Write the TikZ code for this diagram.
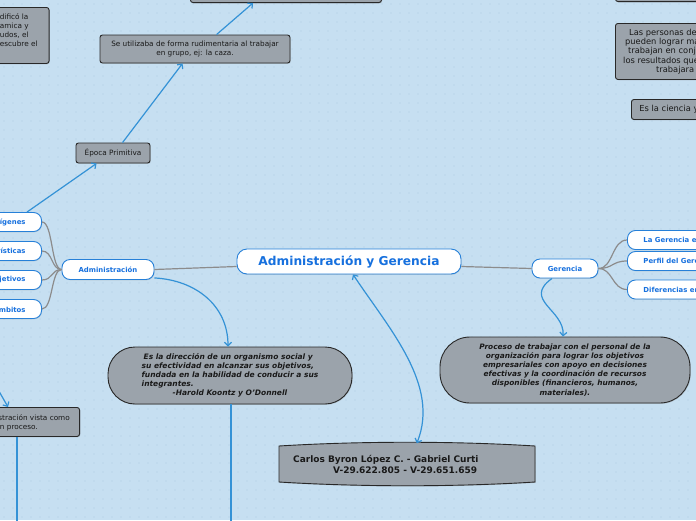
\documentclass[tikz,border=0pt]{standalone}
\usepackage{fontspec}
\setmainfont{DejaVu Sans}
\usetikzlibrary{arrows.meta,shadows}
\definecolor{bgc}{RGB}{198,223,241}
\definecolor{dotc}{RGB}{176,203,226}
\definecolor{grayfill}{RGB}{155,163,171}
\definecolor{darkline}{RGB}{40,40,40}
\definecolor{bluebord}{RGB}{38,128,216}
\definecolor{bluetext}{RGB}{22,112,222}
\definecolor{connblue}{RGB}{52,146,214}
\definecolor{conngray}{RGB}{140,140,140}
\definecolor{txtdark}{RGB}{25,25,25}
\tikzset{
  gbox/.style={draw=darkline, fill=grayfill, rounded corners=2.5pt, line width=0.9pt,
    text=txtdark, font=\fontsize{7.3}{9}\selectfont, align=center, inner sep=0pt,
    drop shadow={shadow xshift=0.8pt,shadow yshift=-0.8pt,opacity=0.3}},
  plaintxt/.style={text=txtdark, font=\fontsize{7.3}{9}\selectfont, inner sep=0pt},
  qshape/.style={draw=darkline, fill=grayfill, line width=0.9pt, text=txtdark,
    inner sep=0pt, font=\bfseries\itshape\fontsize{7.5}{9}\selectfont,
    drop shadow={shadow xshift=0.8pt,shadow yshift=-0.8pt,opacity=0.3}},
  wnode/.style={draw=bluebord, fill=white, line width=0.9pt, rounded corners=8pt,
    text=bluetext, font=\bfseries\fontsize{6.9}{8}\selectfont, inner xsep=16pt,
    inner ysep=0pt, minimum height=19pt,
    drop shadow={shadow xshift=0.5pt,shadow yshift=-0.8pt,opacity=0.25}},
  gconn/.style={draw=conngray, line width=1.2pt},
  bline/.style={draw=connblue, line width=1.2pt},
  bconn/.style={draw=connblue, line width=1.2pt, -{Straight Barb[length=3.5pt,width=7pt]}},
}
\begin{document}
\begin{tikzpicture}[x=1pt,y=-1pt]
\useasboundingbox (0,0) rectangle (696,520);
\clip (0,0) rectangle (696,520);
\fill[bgc] (0,0) rectangle (696,520);
\foreach \x in {4,13,...,700} \foreach \y in {4,13,...,524} \fill[dotc] (\x,\y) circle (0.6);

% ---------- gray boxes, top ----------
\node[gbox, anchor=south west, minimum width=191pt, minimum height=40pt] (topmid) at (190,3) {};
\node[gbox, anchor=north east, minimum width=190pt, minimum height=56pt] (tlbox) at (49.5,7) {};
\node[plaintxt, anchor=west, align=left] (tltext) at (-0.3,30.5) {dificó la\\amica y\\udos, el\\escubre el};
\node[gbox, minimum width=190pt, minimum height=28pt] (caza) at (195,49)
  {Se utilizaba de forma rudimentaria al trabajar\\en grupo, ej: la caza.};
\node[gbox, minimum width=74pt, minimum height=20pt] (epoca) at (113,153) {Época Primitiva};

\node[gbox, anchor=south west, minimum width=150pt, minimum height=40pt] (toprt) at (615,2) {};
\node[gbox, anchor=north west, minimum width=150pt, minimum height=56pt] (trbox) at (615,23) {};
\node[plaintxt, anchor=west, align=left, font=\fontsize{8.3}{9.3}\selectfont] (trtext) at (623,51.5)
  {\hspace*{6pt}Las personas dentro\\\hspace*{2pt}pueden lograr más\\\hspace*{5pt}trabajan en conjunto\\los resultados que\\\hspace*{33pt}trabajara c};
\node[gbox, anchor=west, minimum height=20pt, inner xsep=8pt, font=\fontsize{8.3}{9.3}\selectfont] (ciencia) at (631,109.5) {Es la ciencia y el arte};

% ---------- main nodes ----------
\node[wnode, minimum width=224pt, minimum height=25pt, rounded corners=10pt, inner xsep=0pt,
  font=\bfseries\fontsize{12.2}{14}\selectfont] (main) at (349,261.5) {Administración y Gerencia};
\node[wnode, minimum width=92pt, minimum height=20pt, inner xsep=0pt] (adm) at (108,269.5) {Administración};
\node[wnode, minimum width=66pt, inner xsep=0pt] (ger) at (565,268.5) {Gerencia};

\node[wnode, anchor=east] (orig) at (42,222) {Orígenes};
\node[wnode, anchor=east] (carac) at (42,251) {Características};
\node[wnode, anchor=east] (objet) at (42,280) {Objetivos};
\node[wnode, anchor=east] (ambit) at (42,309) {Ámbitos};

\node[wnode, anchor=west] (lager) at (627,240) {La Gerencia en};
\node[wnode, anchor=west] (perfil) at (627,261) {Perfil del Gerente};
\node[wnode, anchor=west] (difer) at (627,289.5) {Diferencias entre};

% ---------- lower gray shapes ----------
\node[qshape, minimum width=244pt, minimum height=57pt, rounded corners=27pt, align=left] (quote) at (230,375.5)
  {\hspace*{2pt}Es la dirección de un organismo social y\\su efectividad en alcanzar sus objetivos,\\fundada en la habilidad de conducir a sus\\integrantes.\\\hspace*{31pt}-Harold Koontz y O'Donnell};
\node[qshape, minimum width=250pt, minimum height=66pt, rounded corners=30pt, align=center,
  font=\bfseries\itshape\fontsize{7.4}{9.1}\selectfont] (proc) at (565,370)
  {Proceso de trabajar con el personal de la\\organización para lograr los objetivos\\empresariales con apoyo en decisiones\\efectivas y la coordinación de recursos\\disponibles (financieros, humanos,\\materiales).};

\node[gbox, anchor=north east, minimum width=200pt, minimum height=29pt] (vista) at (80,407) {};
\node[plaintxt, anchor=east, align=right] (vistatext) at (70,422.5) {Administración vista como\\un proceso.\hspace*{32pt}};

\filldraw[draw=darkline, fill=grayfill, line width=0.9pt,
  drop shadow={shadow xshift=0.8pt,shadow yshift=-0.8pt,opacity=0.3}]
  (279,446) .. controls (360,441) and (455,441) .. (535,446) -- (535,482)
  .. controls (455,487) and (360,487) .. (279,482) -- cycle;
\node[anchor=west, align=left, inner sep=0pt, minimum height=42pt, text=txtdark,
  font=\bfseries\fontsize{9}{11}\selectfont] (carlos) at (293,464.5)
  {Carlos Byron López C. - Gabriel Curti\\\hspace*{40pt}V-29.622.805 - V-29.651.659};

% ---------- connectors ----------
\draw[gconn] (adm.west) .. controls (51,269.5) and (53,222) .. (orig.east);
\draw[gconn] (adm.west) .. controls (51,269.5) and (53,251) .. (carac.east);
\draw[gconn] (adm.west) .. controls (51,269.5) and (53,280) .. (objet.east);
\draw[gconn] (adm.west) .. controls (51,269.5) and (53,309) .. (ambit.east);
\draw[gconn] (ger.east) .. controls (613,268.5) and (612,240) .. (lager.west);
\draw[gconn] (ger.east) .. controls (613,268.5) and (612,261) .. (perfil.west);
\draw[gconn] (ger.east) .. controls (613,268.5) and (612,289.5) .. (difer.west);
\draw[gconn] (adm.east) -- ([yshift=-5pt]main.west);
\draw[gconn] ([yshift=-5pt]main.east) -- (ger.west);

\draw[bconn] ([xshift=-15pt]orig.north east) -- ([xshift=21pt]epoca.south west);
\draw[bconn] ([xshift=47pt]epoca.north west) -- ([xshift=83pt]caza.south west);
\draw[bconn] ([xshift=117pt]caza.north west) -- ([xshift=63pt]topmid.south west);

\draw[bconn] ([yshift=2pt]adm.south east) .. controls (195,280) and (228,305) .. ([xshift=-2pt]quote.north);
\coordinate (qend) at (231,526);
\draw[bline] ([xshift=1pt]quote.south) -- (qend);

\draw[bconn] ([xshift=-13pt]ger.south) .. controls (522,300) and (565,310) .. ([xshift=-2pt]proc.north);

\draw[bline, {Straight Barb[length=3.5pt,width=7pt]}-{Straight Barb[length=3.5pt,width=7pt]}]
  ([xshift=4pt]main.south) .. controls (390,330) and (440,385) .. ([xshift=31pt]carlos.north);

\coordinate (vstart) at (-4,386);
\draw[bconn] (vstart) -- ([xshift=-72pt]vista.north east);
\coordinate (vend) at (17,526);
\draw[bline] ([xshift=-63pt]vista.south east) -- (vend);
\end{tikzpicture}
\end{document}
